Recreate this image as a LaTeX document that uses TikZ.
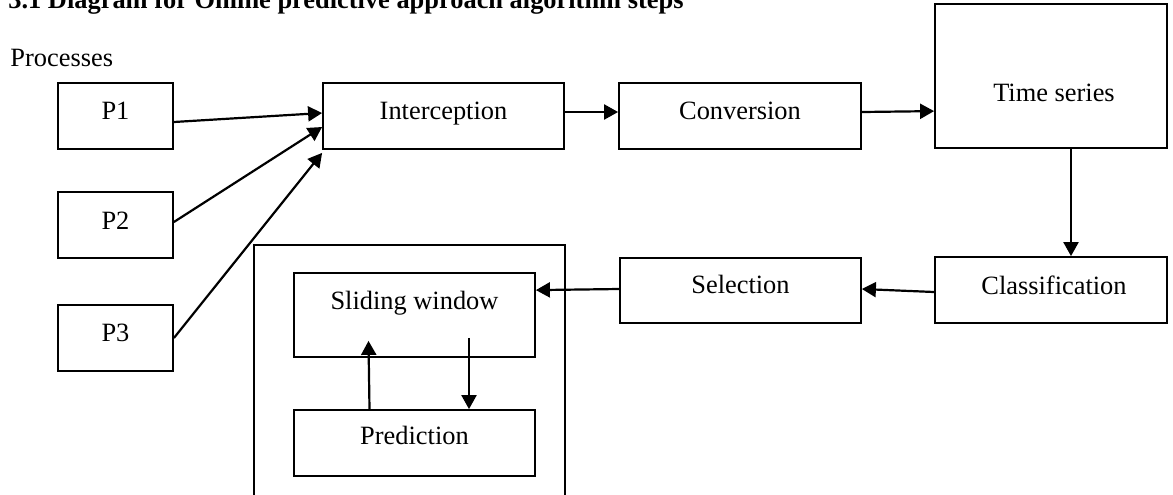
\documentclass[tikz,border=0pt]{standalone}
\usepackage{fontspec}
\setmainfont{Liberation Serif}
\usetikzlibrary{arrows.meta,calc}
\begin{document}
\begin{tikzpicture}[x=0.5pt,y=-0.5pt,
  box/.style={draw, line width=0.9pt, rectangle, inner sep=0pt},
  txt/.style={font=\fontsize{13.2}{15}\selectfont, inner sep=0pt, anchor=base},
  arr/.style={draw, line width=1.1pt, -{Triangle[length=7pt,width=7.5pt]}}]
\useasboundingbox (0,0) rectangle (1173,494);
\clip (0,0) rectangle (1173,494);
% title
\node[anchor=base west, inner sep=0pt, font=\bfseries\fontsize{13.2}{16}\selectfont] (title) at (8,8) {3.1 Diagram for Online predictive approach algorithm steps};
\node[txt, anchor=base west] (proc) at (10,66) {Processes};
% boxes
\node[box, minimum width=57.5pt, minimum height=33pt] (p1) at (115.5,116) {};
\node[box, minimum width=57.5pt, minimum height=33pt] (p2) at (115.5,225) {};
\node[box, minimum width=57.5pt, minimum height=33pt] (p3) at (115.5,338) {};
\node[box, minimum width=120.5pt, minimum height=33pt] (int) at (443.5,116) {};
\node[box, minimum width=121pt, minimum height=33pt] (conv) at (740,116) {};
\node[box, minimum width=116pt, minimum height=72pt] (ts) at (1051,76) {};
\node[box, minimum width=116pt, minimum height=33pt] (cls) at (1051,290) {};
\node[box, minimum width=120.5pt, minimum height=32.5pt] (sel) at (740.5,290.5) {};
\node[box, anchor=north west, minimum width=155.5pt, minimum height=140pt] (outer) at (253,244) {};
\node[box, minimum width=120.5pt, minimum height=42pt] (sw) at (414.5,315) {};
\node[box, minimum width=120.5pt, minimum height=33pt] (pred) at (414.5,443) {};
% labels
\node[txt] (p1t) at (115.5,119) {P1};
\node[txt] (p2t) at (115.5,229) {P2};
\node[txt] (p3t) at (115.5,341) {P3};
\node[txt] (intt) at (443.5,119) {Interception};
\node[txt] (convt) at (740,119) {Conversion};
\node[txt] (tst) at (1054,101) {Time series};
\node[txt] (clst) at (1054,294) {Classification};
\node[txt] (selt) at (740.5,293) {Selection};
\node[txt] (swt) at (414.5,309) {Sliding window};
\node[txt] (predt) at (414.5,444) {Prediction};
% connectors
\draw[arr] ($(p1.east)+(0,6)$) -- ($(int.west)+(0,-3)$);
\draw[arr] ($(p2.east)+(0,-3)$) -- ($(int.west)+(0,11)$);
\draw[arr] (p3.east) -- ($(int.south west)+(0,3)$);
\draw[arr] ($(int.east)+(0,-4)$) -- ($(conv.west)+(0,-4)$);
\draw[arr] ($(conv.east)+(0,-4)$) -- ($(ts.north west)+(0,108)$);
\draw[arr] ($(ts.south)+(20,0)$) -- ($(cls.north)+(20,0)$);
\draw[arr] ($(cls.west)+(0,2)$) -- ($(sel.east)+(0,-1.5)$);
\draw[arr] ($(sel.west)+(0,-1.5)$) -- ($(sw.north east)+(0,18)$);
\draw[arr] ($(sw.south)+(54.5,-20)$) -- ($(pred.north)+(54.5,0)$);
\draw[arr] ($(pred.north)+(-45,0)$) -- ($(sw.south)+(-46,-17)$);
\end{tikzpicture}
\end{document}
